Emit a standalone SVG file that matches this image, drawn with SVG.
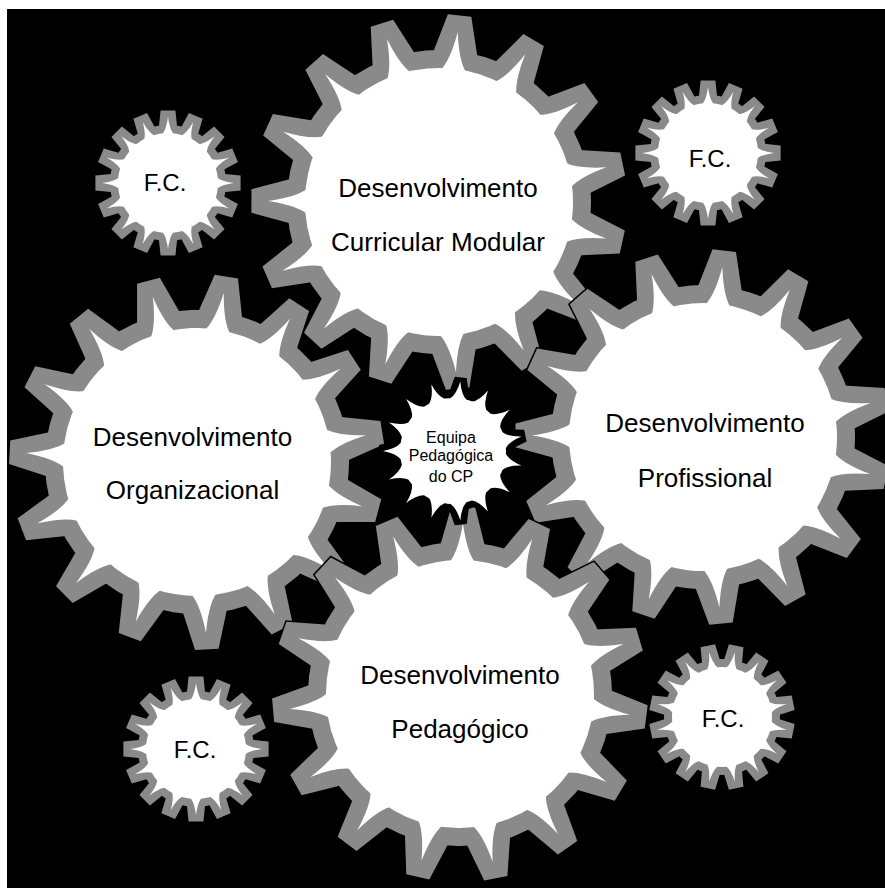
<svg xmlns="http://www.w3.org/2000/svg" width="885" height="888" viewBox="0 0 885 888">
<style>
.gray{fill:#8a8a8a}
.edge{fill:#000;stroke:#000;stroke-width:3}
.white{fill:#fff}
.lbl{font-family:"Liberation Sans",Arial,sans-serif;fill:#000;text-anchor:middle}
.big{font-size:26px}
.fc{font-size:24px}
.ctr{font-size:16px}
</style>
<defs>
<path id="bt" d="M-24.5,-140 L-11.8,-187.6 L11.8,-187.6 L24.5,-140 Z"/>
<path id="bs" d="M-14,-124 L-12,-132.6 Q-4,-144 0,-171 Q4,-144 12,-132.6 L14,-124 Z"/>
<path id="st" d="M-9.6,-52 L-7.4,-72.6 L7.4,-72.6 L9.6,-52 Z"/>
<path id="ss" d="M-6.4,-45 L-5,-49.8 Q-1.5,-54.5 0,-66 Q1.5,-54.5 5,-49.8 L6.4,-45 Z"/>
<path id="ct" d="M-10.5,-56 L-6,-74 L6,-74 L10.5,-56 Z"/>
<path id="cs" d="M-10,-46 L-8,-52.4 Q-2.5,-57 0,-70 Q2.5,-57 8,-52.4 L10,-46 Z"/>
<g id="big-gray">
<circle r="152"/>
<use href="#bt"/><use href="#bt" transform="rotate(24)"/><use href="#bt" transform="rotate(48)"/><use href="#bt" transform="rotate(72)"/><use href="#bt" transform="rotate(96)"/><use href="#bt" transform="rotate(120)"/><use href="#bt" transform="rotate(144)"/><use href="#bt" transform="rotate(168)"/><use href="#bt" transform="rotate(192)"/><use href="#bt" transform="rotate(216)"/><use href="#bt" transform="rotate(240)"/><use href="#bt" transform="rotate(264)"/><use href="#bt" transform="rotate(288)"/><use href="#bt" transform="rotate(312)"/><use href="#bt" transform="rotate(336)"/>
</g>
<g id="big-white">
<circle r="134"/>
<use href="#bs"/><use href="#bs" transform="rotate(24)"/><use href="#bs" transform="rotate(48)"/><use href="#bs" transform="rotate(72)"/><use href="#bs" transform="rotate(96)"/><use href="#bs" transform="rotate(120)"/><use href="#bs" transform="rotate(144)"/><use href="#bs" transform="rotate(168)"/><use href="#bs" transform="rotate(192)"/><use href="#bs" transform="rotate(216)"/><use href="#bs" transform="rotate(240)"/><use href="#bs" transform="rotate(264)"/><use href="#bs" transform="rotate(288)"/><use href="#bs" transform="rotate(312)"/><use href="#bs" transform="rotate(336)"/>
</g>
<g id="small-gray">
<circle r="58"/>
<use href="#st"/><use href="#st" transform="rotate(22.5)"/><use href="#st" transform="rotate(45)"/><use href="#st" transform="rotate(67.5)"/><use href="#st" transform="rotate(90)"/><use href="#st" transform="rotate(112.5)"/><use href="#st" transform="rotate(135)"/><use href="#st" transform="rotate(157.5)"/><use href="#st" transform="rotate(180)"/><use href="#st" transform="rotate(202.5)"/><use href="#st" transform="rotate(225)"/><use href="#st" transform="rotate(247.5)"/><use href="#st" transform="rotate(270)"/><use href="#st" transform="rotate(292.5)"/><use href="#st" transform="rotate(315)"/><use href="#st" transform="rotate(337.5)"/>
</g>
<g id="small-white">
<circle r="50"/>
<use href="#ss"/><use href="#ss" transform="rotate(22.5)"/><use href="#ss" transform="rotate(45)"/><use href="#ss" transform="rotate(67.5)"/><use href="#ss" transform="rotate(90)"/><use href="#ss" transform="rotate(112.5)"/><use href="#ss" transform="rotate(135)"/><use href="#ss" transform="rotate(157.5)"/><use href="#ss" transform="rotate(180)"/><use href="#ss" transform="rotate(202.5)"/><use href="#ss" transform="rotate(225)"/><use href="#ss" transform="rotate(247.5)"/><use href="#ss" transform="rotate(270)"/><use href="#ss" transform="rotate(292.5)"/><use href="#ss" transform="rotate(315)"/><use href="#ss" transform="rotate(337.5)"/>
</g>
<g id="center-back">
<circle r="60"/>
<use href="#ct"/><use href="#ct" transform="rotate(24)"/><use href="#ct" transform="rotate(48)"/><use href="#ct" transform="rotate(72)"/><use href="#ct" transform="rotate(96)"/><use href="#ct" transform="rotate(120)"/><use href="#ct" transform="rotate(144)"/><use href="#ct" transform="rotate(168)"/><use href="#ct" transform="rotate(192)"/><use href="#ct" transform="rotate(216)"/><use href="#ct" transform="rotate(240)"/><use href="#ct" transform="rotate(264)"/><use href="#ct" transform="rotate(288)"/><use href="#ct" transform="rotate(312)"/><use href="#ct" transform="rotate(336)"/>
</g>
<g id="center-white">
<circle r="53"/>
<use href="#cs"/><use href="#cs" transform="rotate(24)"/><use href="#cs" transform="rotate(48)"/><use href="#cs" transform="rotate(72)"/><use href="#cs" transform="rotate(96)"/><use href="#cs" transform="rotate(120)"/><use href="#cs" transform="rotate(144)"/><use href="#cs" transform="rotate(168)"/><use href="#cs" transform="rotate(192)"/><use href="#cs" transform="rotate(216)"/><use href="#cs" transform="rotate(240)"/><use href="#cs" transform="rotate(264)"/><use href="#cs" transform="rotate(288)"/><use href="#cs" transform="rotate(312)"/><use href="#cs" transform="rotate(336)"/>
</g>
</defs>

<rect x="0" y="0" width="885" height="888" fill="#fff"/>
<rect x="7" y="9" width="878" height="879" fill="#000"/>

<g id="connectors"/>

<g id="gear-curricular">
<g transform="translate(439,202) rotate(6.3)">
<use href="#big-gray" class="edge"/><use href="#big-gray" class="gray"/><use href="#big-white" class="white"/>
</g>
<text class="lbl big" x="438" y="197">Desenvolvimento</text>
<text class="lbl big" x="438" y="251">Curricular Modular</text>
</g>

<g id="gear-profissional">
<g transform="translate(703,437) rotate(6.5)">
<use href="#big-gray" class="edge"/><use href="#big-gray" class="gray"/><use href="#big-white" class="white"/>
</g>
<text class="lbl big" x="705" y="432">Desenvolvimento</text>
<text class="lbl big" x="705" y="487">Profissional</text>
</g>

<g id="gear-organizacional">
<g transform="translate(197,462) rotate(9)">
<use href="#big-gray" class="edge"/><use href="#big-gray" class="gray"/><use href="#big-white" class="white"/>
</g>
<text class="lbl big" x="192.5" y="446">Desenvolvimento</text>
<text class="lbl big" x="192.5" y="499">Organizacional</text>
</g>

<g id="gear-pedagogico">
<g transform="translate(460,694) rotate(1)">
<use href="#big-gray" class="edge"/><use href="#big-gray" class="gray"/><use href="#big-white" class="white"/>
</g>
<text class="lbl big" x="460" y="684">Desenvolvimento</text>
<text class="lbl big" x="460" y="738">Pedagógico</text>
</g>

<g id="fc-top-left">
<g transform="translate(168,183)">
<use href="#small-gray" class="gray"/><use href="#small-white" class="white"/>
</g>
<text class="lbl fc" x="165" y="191">F.C.</text>
</g>

<g id="fc-top-right">
<g transform="translate(708,153)">
<use href="#small-gray" class="gray"/><use href="#small-white" class="white"/>
</g>
<text class="lbl fc" x="710" y="167">F.C.</text>
</g>

<g id="fc-bottom-right">
<g transform="translate(722,717) rotate(11.25)">
<use href="#small-gray" class="gray"/><use href="#small-white" class="white"/>
</g>
<text class="lbl fc" x="723" y="727">F.C.</text>
</g>

<g id="fc-bottom-left">
<g transform="translate(196,749)">
<use href="#small-gray" class="gray"/><use href="#small-white" class="white"/>
</g>
<text class="lbl fc" x="195" y="758">F.C.</text>
</g>

<g id="gear-equipa">
<g transform="translate(453,451) rotate(6)">
<use href="#center-back" fill="#000"/><use href="#center-white" class="white"/>
</g>
<text class="lbl ctr" x="451" y="443">Equipa</text>
<text class="lbl ctr" x="451" y="461">Pedagógica</text>
<text class="lbl ctr" x="451" y="482">do CP</text>
</g>
</svg>
